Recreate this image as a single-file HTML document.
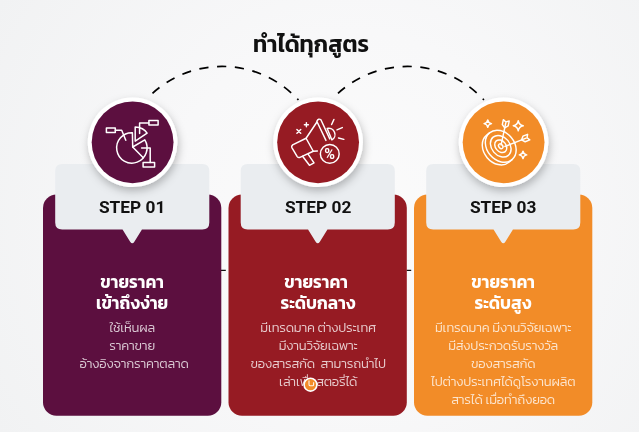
<!DOCTYPE html>
<html lang="th">
<head>
<meta charset="utf-8">
<title>ทำได้ทุกสูตร</title>
<style>
html,body{margin:0;padding:0;}
body{width:639px;height:432px;overflow:hidden;position:relative;background:radial-gradient(ellipse 65% 95% at 55% 50%,#fbfbfb 0%,#f8f8f9 45%,#f1f2f3 100%);
  font-family:"Kanit","Prompt","Liberation Sans","Noto Sans Thai","Loma",sans-serif;}
.abs{position:absolute;}
.title,.col,svg{will-change:transform;}
svg{position:absolute;left:0;top:0;}
.title{left:0;width:622px;top:28px;text-align:center;font-weight:600;font-size:22.8px;line-height:32px;color:#111;white-space:nowrap;}
.col{top:194.6px;width:178.3px;height:221.2px;}
.c1{left:43px}.c2{left:228.5px}.c3{left:414px}
.step{left:0;width:100%;top:2px;text-align:center;font-family:"Roboto","Liberation Sans",sans-serif;font-weight:700;font-size:17.3px;line-height:20px;color:#111;white-space:nowrap;}
.h{left:0;width:100%;text-align:center;color:#fff;font-weight:600;font-size:17.2px;line-height:21px;top:77.0px;white-space:nowrap;}
.b{left:0;width:100%;text-align:center;color:rgba(255,255,255,.77);font-weight:300;font-size:13.1px;letter-spacing:-0.2px;line-height:18px;top:124.4px;white-space:nowrap;}
</style>
</head>
<body>
<svg width="639" height="432" viewBox="0 0 639 432">
  <defs>
    <filter id="sh" x="-30%" y="-30%" width="160%" height="170%">
      <feDropShadow dx="1.2" dy="4" stdDeviation="4.3" flood-color="#000" flood-opacity=".25"/>
    </filter>
  </defs>
  <g fill="none" stroke="#000" stroke-width="1.7" stroke-dasharray="9.2 8.6">
    <path d="M152.5 93.3 A103.5 103.5 0 0 1 298.4 100"/>
    <path d="M338 93.3 A103.5 103.5 0 0 1 483.9 100"/>
  </g>
  <path d="M221 270.4 H225.8 M406.5 270.4 H411.2" stroke="#111" stroke-width="1.3"/>
  <rect x="43" y="194.6" width="178.3" height="221.2" rx="13.5" fill="#5c0f3f"/>
  <rect x="228.5" y="194.6" width="178.3" height="221.2" rx="13.5" fill="#961b23"/>
  <rect x="414" y="194.6" width="178.3" height="221.2" rx="13.5" fill="#f28c28"/>
  <path d="M62.20 164.0 H202.30 Q209.30 164.0 209.30 171.0 V222.6 Q209.30 229.6 202.30 229.6 H141.95 L134.35 241.70 Q132.25 245.00 130.15 241.70 L122.55 229.6 H62.20 Q55.20 229.6 55.20 222.6 V171.0 Q55.20 164.0 62.20 164.0 Z" fill="#eaedf0"/>
  <path d="M247.70 164.0 H387.80 Q394.80 164.0 394.80 171.0 V222.6 Q394.80 229.6 387.80 229.6 H327.45 L319.85 241.70 Q317.75 245.00 315.65 241.70 L308.05 229.6 H247.70 Q240.70 229.6 240.70 222.6 V171.0 Q240.70 164.0 247.70 164.0 Z" fill="#eaedf0"/>
  <path d="M433.20 164.0 H573.30 Q580.30 164.0 580.30 171.0 V222.6 Q580.30 229.6 573.30 229.6 H512.95 L505.35 241.70 Q503.25 245.00 501.15 241.70 L493.55 229.6 H433.20 Q426.20 229.6 426.20 222.6 V171.0 Q426.20 164.0 433.20 164.0 Z" fill="#eaedf0"/>
  <g filter="url(#sh)">
    <circle cx="132.6" cy="142.3" r="44.8" fill="#fff"/>
    <circle cx="318.1" cy="142.3" r="44.8" fill="#fff"/>
    <circle cx="503.6" cy="142.3" r="44.8" fill="#fff"/>
  </g>
  <circle cx="132.6" cy="142.3" r="40.9" fill="#5c0f3f"/>
  <circle cx="318.1" cy="142.3" r="40.9" fill="#961b23"/>
  <circle cx="503.6" cy="142.3" r="40.9" fill="#f28c28"/>
  <!-- icon 1: pie chart -->
  <g fill="none" stroke="#fff" stroke-width="1.5" stroke-linejoin="round" stroke-linecap="round">
    <path d="M132.4 132.7 A15.2 15.2 0 1 0 144.8 139.9 L132.7 147 Z"/>
    <path d="M132.7 147 L143 157.6"/>
    <path d="M135.2 127.1 Q143.5 127.6 147.1 133.2 L135.2 141.1 Z"/>
    <rect x="106.4" y="128" width="8.9" height="4.6"/>
    <path d="M115.3 130.3 H121.7 L125.8 140.3"/>
    <rect x="148.9" y="120.4" width="9.2" height="4.6"/>
    <path d="M148.9 123 H139.6 V133.6"/>
    <rect x="143.1" y="162.6" width="11.5" height="4.4"/>
    <path d="M150.2 162.6 V147.9 H141.6"/>
  </g>
  <!-- icon 2: megaphone -->
  <g fill="none" stroke="#fff" stroke-linejoin="round" stroke-linecap="round">
    <g transform="translate(285 110) scale(0.1528)" stroke-width="9.6">
      <path d="M208 74 L268 199 M293 189 L235 64 Q220 52 208 74"/>
      <path d="M208 80 L138 185 L50 228 Q40 236 45 246 L80 305 Q87 314 98 310 L185 270 L212 268"/>
      <path d="M138 185 L185 270"/>
      <path d="M115 303 L160 362 L190 346 L152 290"/>
      <path d="M276 121 A41 41 0 0 1 307 196 Z"/>
      <path d="M305 95 L320 62 M340 130 L375 115 M350 183 L385 192"/>
      <path d="M78 128 L103 152 M103 128 L78 152 M140 84 V110 M127 97 H153"/>
      <circle cx="293" cy="287.3" r="61.5"/>
    </g>
  </g>
  <text x="329.7" y="159.1" font-family="Roboto, Liberation Sans, sans-serif" font-weight="700" font-size="14.5" fill="#fff" text-anchor="middle">%</text>
  <!-- icon 3: target -->
  <g fill="none" stroke="#fff" stroke-linejoin="round" stroke-linecap="round">
    <g transform="translate(478 118) scale(0.125)" stroke-width="11.6">
      <g transform="translate(182 226) rotate(50)">
        <ellipse rx="140" ry="110"/>
        <ellipse rx="95" ry="73"/>
        <ellipse rx="56" ry="42"/>
        <ellipse rx="21" ry="15"/>
        <path d="M-140 0 V32 A140 110 0 0 0 140 32 V0"/>
      </g>
      <path d="M185 215 L222 40 M215 228 L385 161"/>
      <path transform="translate(225 24) rotate(101.9)" d="M8 0 L-6 -24 L34 -24 L56 0 L34 24 L-6 24 Z"/>
      <path transform="translate(400 155) rotate(158.4)" d="M8 0 L-6 -24 L34 -24 L56 0 L34 24 L-6 24 Z"/>
      <path d="M78 15 Q82 41 108 45 Q82 49 78 75 Q74 49 48 45 Q74 41 78 15 Z"/>
      <path d="M322 22 Q328 56 362 62 Q328 68 322 102 Q316 68 282 62 Q316 56 322 22 Z"/>
      <path d="M360 265 Q364 291 390 295 Q364 299 360 325 Q356 299 330 295 Q356 291 360 265 Z"/>
    </g>
  </g>
  </svg>
<div class="abs title">ทำได้ทุกสูตร</div>

<div class="abs col c1"><div class="abs step">STEP 01</div><div class="abs h">ขายราคา<br>เข้าถึงง่าย</div><div class="abs b">ใช้เห็นผล<br>ราคาขาย<br><span style="position:relative;left:2px">อ้างอิงจากราคาตลาด</span></div></div>
<div class="abs col c2"><div class="abs step">STEP 02</div><div class="abs h"><span style="position:relative;left:-2px">ขายราคา</span><br>ระดับกลาง</div><div class="abs b">มีเทรดมาค ต่างประเทศ<br>มีงานวิจัยเฉพาะ<br>ของสารสกัด&nbsp; สามารถนำไป<br>เล่าเพื่อสตอรี่ได้</div></div>
<div class="abs col c3"><div class="abs step">STEP 03</div><div class="abs h">ขายราคา<br>ระดับสูง</div><div class="abs b">มีเทรดมาค มีงานวิจัยเฉพาะ<br>มีส่งประกวดรับรางวัล<br>ของสารสกัด<br>ไปต่างประเทศได้ดูโรงานผลิต<br>สารได้ เมื่อทำถึงยอด</div></div>
<svg width="639" height="432" viewBox="0 0 639 432">
  <!-- small status dot -->
  <circle cx="310.5" cy="384.7" r="6.4" fill="#f28c28" stroke="#fff" stroke-width="1.6"/>
  <path d="M309 380.5 V384.4 Q309 385.7 310.2 385.7 H312.6 Q313.6 385.7 313.6 384.4 V382.2" fill="none" stroke="#fff" stroke-width="1.1" opacity=".9"/>
</svg>
</body>
</html>
